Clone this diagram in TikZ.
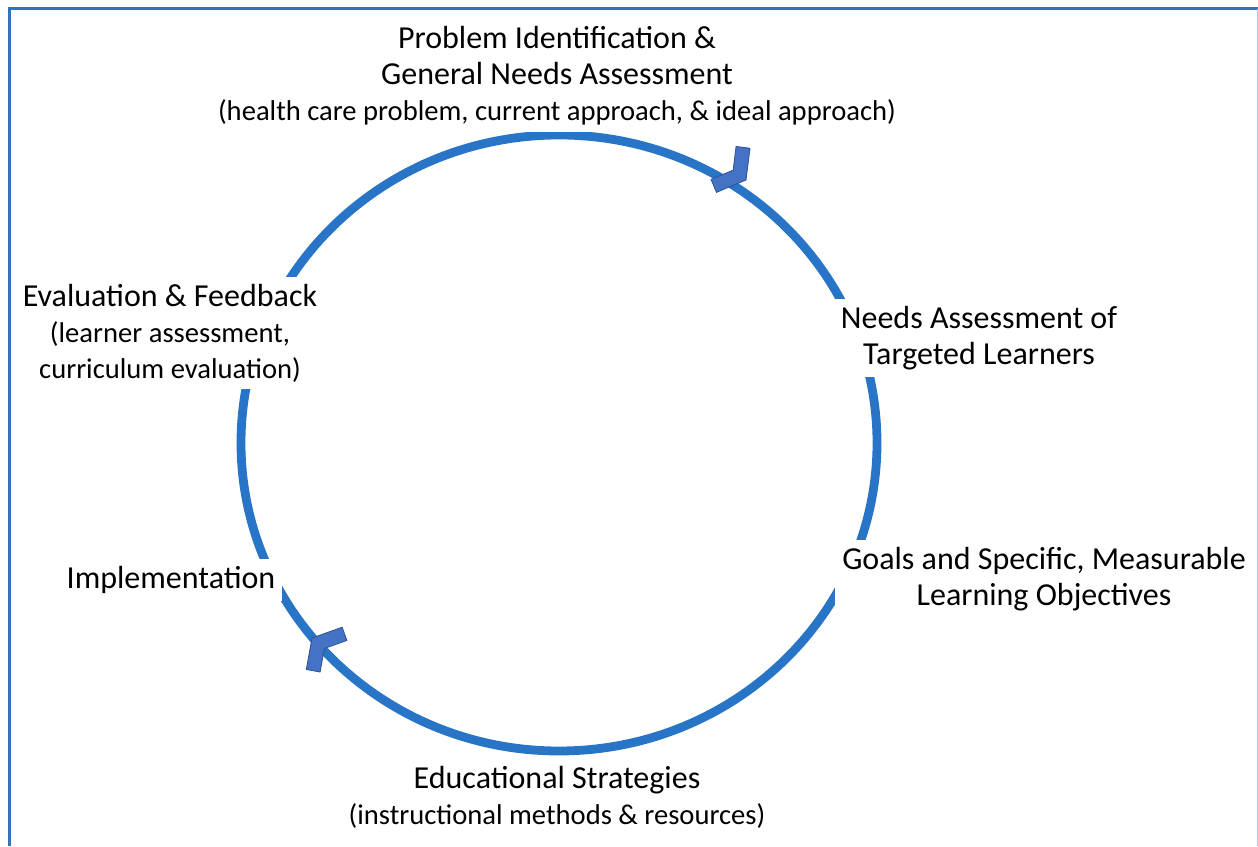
\documentclass[tikz,border=0pt]{standalone}
\usepackage{fontspec}
\setmainfont{Carlito}
\definecolor{ringblue}{RGB}{40,117,199}
\definecolor{arrowblue}{RGB}{68,114,196}
\definecolor{arrowedge}{RGB}{47,82,143}
\definecolor{frameblue}{RGB}{46,117,190}
\newcommand\detail{\fontsize{14.3}{18}\selectfont}
\begin{document}
\begin{tikzpicture}[x=0.5pt,y=0.5pt,
    stage/.style={fill=white,align=center,inner sep=3.5pt,
      font=\fontsize{16}{18}\selectfont},
    chevron/.style={fill=arrowblue,draw=arrowedge,line width=0.4pt}]
  \useasboundingbox (0,0) rectangle (1258,846);
  % frame
  \draw[frameblue,line width=1.5pt] (9,0) -- (9,837) -- (1258,837);
  \draw[frameblue!40,line width=0.5pt] (1257.5,0) -- (1257.5,837);
  % cycle
  \draw[ringblue,line width=4.4pt] (559,403) ellipse [x radius=159pt,y radius=154pt];
  \filldraw[chevron,shift={(746,666)},rotate=-37.25]
    (0,0) -- (-16,27.7) -- (-28.2,20.7) -- (-16.2,0) -- (-28.2,-20.7) -- (-16,-27.7) -- cycle;
  \filldraw[chevron,shift={(312,208)},rotate=139.7]
    (0,0) -- (-16,27.7) -- (-28.2,20.7) -- (-16.2,0) -- (-28.2,-20.7) -- (-16,-27.7) -- cycle;
  % stages
  \node[stage](problem) at (557,770)
    {Problem Identification \&\\General Needs Assessment\\\detail(health care problem, current approach, \& ideal approach)};
  \node[stage](needs) at (979,508) {Needs Assessment of\\Targeted Learners};
  \node[stage](goals) at (1044,267) {Goals and Specific, Measurable\\Learning Objectives};
  \node[stage](strategies) at (557,49) {Educational Strategies\\\detail(instructional methods \& resources)};
  \node[stage](implementation) at (171,266) {Implementation};
  \node[stage](evaluation) at (170,513)
    {Evaluation \& Feedback\\\detail(learner assessment,\\\detail curriculum evaluation)};
\end{tikzpicture}
\end{document}
